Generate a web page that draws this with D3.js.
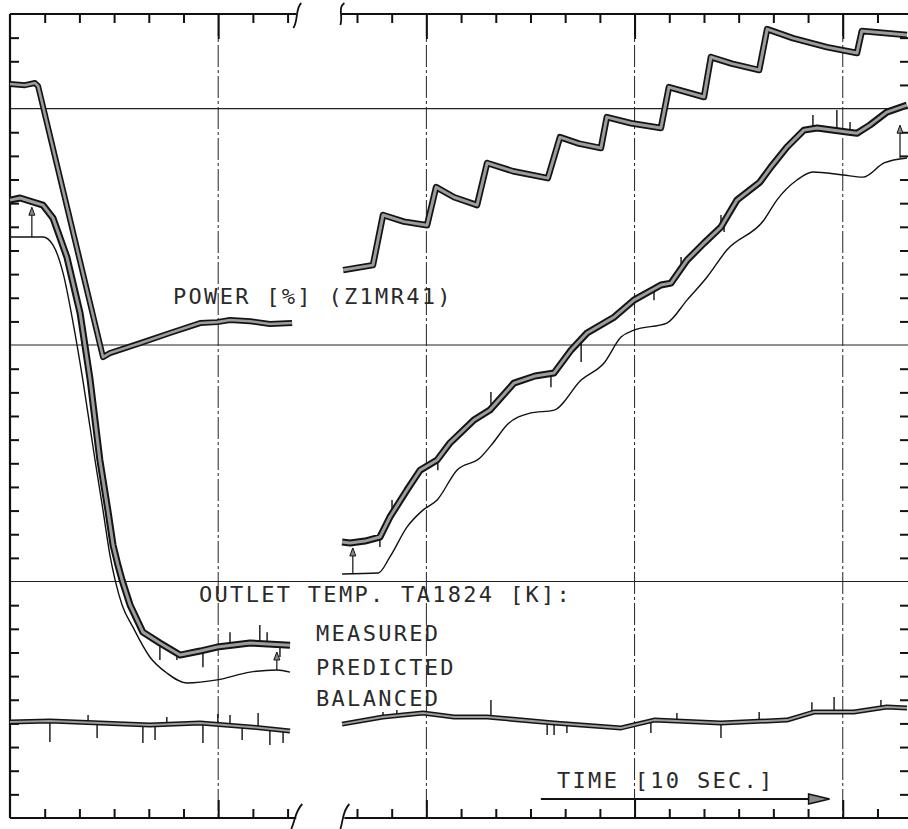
<!DOCTYPE html>
<html>
<head>
<meta charset="utf-8">
<script src="https://cdnjs.cloudflare.com/ajax/libs/d3/7.8.5/d3.min.js"></script>
<style>
  body { margin: 0; background: #fff; }
  .label { font-family: 'DejaVu Sans Mono', monospace; font-size: 22px; letter-spacing: 2.3px; fill: #2a2a2a; }
  .tick line { stroke: #111; }
</style>
</head>
<body>
<div id="chart-area"></div>
<script>
// recorder trace: time in seconds (one tick = 10 s), value in chart divisions (0 - 34)

var width = 908,
    height = 829;

// POWER [%] (Z1MR41)
var powerLeft = [
    [0, 31.04], [4.3, 30.99], [7.2, 31.08], [8.1, 30.95], [26.8, 19.49], [28.8, 19.66],
    [37.5, 20.08], [46.1, 20.51], [54.8, 20.93], [59.7, 20.97], [63.4, 21.06], [69.2, 21.01],
    [74.9, 20.89], [81.3, 20.93]
];
var powerRight = [
    [96.0, 23.17], [104.6, 23.38], [107.5, 25.50], [113.5, 25.22], [120.2, 25.07], [122.8, 26.68],
    [128.0, 26.25], [134.6, 25.92], [137.5, 27.70], [145.0, 27.35], [155.0, 27.06], [158.5, 28.79],
    [164.0, 28.52], [170.3, 28.33], [172.0, 29.64], [179.0, 29.38], [187.6, 29.18], [189.9, 30.91],
    [200.0, 30.49], [202.0, 32.18], [208.0, 31.90], [215.9, 31.63], [218.2, 33.36], [225.6, 32.98],
    [235.4, 32.60], [244.1, 32.35], [245.5, 33.28], [252.0, 33.20], [258.5, 33.11]
];

// OUTLET TEMP. TA1824 [K] - measured
var measuredLeft = [
    [0, 26.13], [2.9, 26.22], [6.6, 26.05], [9.5, 25.92], [12.4, 25.37], [16.4, 23.72], [20.2, 21.35],
    [23.1, 18.52], [25.9, 15.14], [28.2, 13.02], [29.7, 11.54], [31.1, 10.70], [32.3, 10.06],
    [34.6, 9.01], [38.3, 7.86], [43.2, 7.40], [49.0, 6.89], [54.8, 7.06], [59.7, 7.23], [69.2, 7.40],
    [80.7, 7.31]
];
var measuredRight = [
    [95.7, 11.67], [98.0, 11.63], [102.3, 11.71], [106.6, 11.88], [109.5, 12.73], [114.4, 13.87],
    [118.2, 14.71], [123.1, 15.14], [126.8, 15.86], [133.7, 16.83], [138.3, 17.25], [145.2, 18.39],
    [151.3, 18.69], [156.8, 18.82], [161.7, 19.79], [166.3, 20.51], [174.1, 21.18], [179.8, 21.90],
    [187.6, 22.54], [190.5, 22.62], [195.1, 23.59], [200.0, 24.31], [204.9, 24.99], [209.5, 26.13],
    [216.1, 26.89], [219.3, 27.53], [223.9, 28.37], [228.8, 29.09], [232.6, 29.18], [241.2, 29.01],
    [244.1, 28.96], [247.8, 29.30], [252.7, 29.85], [258.5, 30.15]
];

// predicted
var predictedLeft = [
    [0, 24.57], [9.5, 24.57], [12.4, 24.23], [15.3, 23.04], [18.2, 20.93], [21.0, 18.52], [24.5, 15.14],
    [26.8, 13.02], [28.8, 11.12], [30.3, 10.06], [32.3, 9.01], [35.4, 8.08], [40.3, 6.81], [45.2, 6.13],
    [51.0, 5.71], [59.7, 5.84], [69.2, 6.17], [76.9, 6.26], [80.7, 6.17]
];
var predictedRight = [
    [95.7, 10.32], [106.1, 10.36], [109.5, 11.04], [114.4, 12.30], [119.0, 13.02], [123.1, 13.45],
    [128.8, 14.71], [135.4, 15.22], [139.2, 15.86], [143.2, 16.62], [149.9, 17.12], [156.8, 17.25],
    [164.6, 18.52], [171.2, 19.24], [176.1, 20.34], [179.8, 20.63], [189.3, 20.93], [195.1, 21.90],
    [200.9, 22.88], [206.6, 24.02], [217.3, 25.29], [221.0, 26.13], [226.8, 26.98], [231.4, 27.32],
    [240.1, 27.19], [245.8, 27.10], [251.9, 27.70], [258.5, 27.91]
];

// balanced
var balancedLeft = [
    [0, 4.06], [11.5, 4.10], [25.9, 4.02], [40.3, 3.93], [54.8, 4.02], [69.2, 3.85], [80.7, 3.68]
];
var balancedRight = [
    [95.7, 3.97], [107.5, 4.27], [119.0, 4.44], [128.0, 4.27], [137.5, 4.27], [156.8, 4.02],
    [176.1, 3.81], [185.6, 4.14], [204.9, 4.02], [223.9, 4.14], [231.7, 4.48], [243.2, 4.48],
    [252.7, 4.69], [258.5, 4.65]
];

// noise spikes: [time, tip value]
var measuredSpikes = [
    [43.2, 6.68], [48.1, 6.68], [55.6, 6.38], [63.4, 7.86], [72.0, 8.16], [74.1, 7.86], [77.8, 6.81],
    [106.6, 11.46], [110.1, 13.45], [123.3, 14.71], [138.6, 18.01], [155.9, 18.22], [164.6, 19.28],
    [185.6, 21.90], [193.4, 23.72], [204.9, 25.50], [205.8, 24.78], [231.4, 29.73], [238.3, 29.94],
    [242.1, 29.43]
];
var balancedSpikes = [
    [11.5, 3.21], [22.5, 4.36], [25.1, 3.38], [38.3, 3.17], [41.8, 3.30], [45.2, 4.27], [55.6, 3.17],
    [59.9, 4.40], [63.4, 4.36], [66.9, 3.30], [71.5, 4.44], [74.9, 3.09], [78.7, 3.17],
    [107.5, 4.48], [111.5, 4.57], [138.6, 4.99], [154.8, 3.51], [156.8, 3.51], [160.5, 3.59],
    [184.7, 3.59], [192.2, 4.44], [204.9, 3.38], [215.9, 4.48], [231.1, 4.90], [237.5, 5.12],
    [251.0, 4.99]
];

// predicted -> measured markers: [time, from, to]
var markers = [[6.3, 24.57, 25.83], [76.9, 6.26, 7.02], [98.8, 10.32, 11.42], [256.5, 27.91, 29.30]];

// axis ticks
var minorTicks = [10, 20, 30, 40, 50, 70, 80, 100, 110, 130, 140, 150, 160, 170, 190, 200, 210, 220, 230, 250];
var majorTicks = [60, 120, 180, 240];
var valueTicks = d3.range(1, 34).filter(function(v) { return v % 10 !== 0; });
var gridValues = [10, 20, 30];
var breakTimes = [82.5, 95.5];

var svg = d3.select('#chart-area')
    .append('svg')
        .attr('width', width)
        .attr('height', height);

var g = svg.append('g');

// scales
var xScale = d3.scaleLinear().domain([0, 258.8]).range([10, 908]);
var yScale = d3.scaleLinear().domain([0, 34]).range([818, 14]);

var line = d3.line()
    .x(function(d) { return xScale(d[0]); })
    .y(function(d) { return yScale(d[1]); });

var smooth = d3.line()
    .x(function(d) { return xScale(d[0]); })
    .y(function(d) { return yScale(d[1]); })
    .curve(d3.curveMonotoneX);

// grid
gridValues.forEach(function(v) {
    g.append('line')
        .attr('x1', xScale(0)).attr('x2', width)
        .attr('y1', yScale(v)).attr('y2', yScale(v))
        .attr('stroke', '#222').attr('stroke-width', 1.1);
});
majorTicks.forEach(function(t) {
    g.append('line')
        .attr('x1', xScale(t)).attr('x2', xScale(t))
        .attr('y1', yScale(34)).attr('y2', yScale(0))
        .attr('stroke', '#222').attr('stroke-width', 1)
        .attr('stroke-dasharray', '22,3,3,3');
});

// axis ticks (domain paths removed, frame drawn below)
function tickAxis(axis, tx, ty) {
    var ag = g.append('g')
        .attr('transform', 'translate(' + tx + ',' + ty + ')')
        .call(axis);
    ag.select('.domain').remove();
    ag.selectAll('.tick line').attr('stroke-width', 2);
    return ag;
}
tickAxis(d3.axisBottom(xScale).tickValues(minorTicks).tickSize(9).tickFormat(''), 0, yScale(34));
tickAxis(d3.axisBottom(xScale).tickValues(majorTicks).tickSize(25).tickFormat(''), 0, yScale(34));
tickAxis(d3.axisTop(xScale).tickValues(minorTicks).tickSize(9).tickFormat(''), 0, yScale(0));
tickAxis(d3.axisTop(xScale).tickValues(majorTicks).tickSize(18).tickFormat(''), 0, yScale(0));
tickAxis(d3.axisRight(yScale).tickValues(valueTicks).tickSize(9).tickFormat(''), xScale(0), 0);
tickAxis(d3.axisLeft(yScale).tickValues(valueTicks).tickSize(8).tickFormat(''), width, 0);

// frame with the time break
var frame = [
    [xScale(0), yScale(34), xScale(breakTimes[0]), yScale(34)],
    [xScale(breakTimes[1]), yScale(34), width, yScale(34)],
    [xScale(0), yScale(0), xScale(breakTimes[0]), yScale(0)],
    [xScale(breakTimes[1]) + 3, yScale(0), width, yScale(0)],
    [xScale(0), yScale(34), xScale(0), yScale(0)]
];
frame.forEach(function(f) {
    g.append('line')
        .attr('x1', f[0]).attr('y1', f[1]).attr('x2', f[2]).attr('y2', f[3])
        .attr('stroke', '#111').attr('stroke-width', 2.2);
});

var b0 = xScale(breakTimes[0]), b1 = xScale(breakTimes[1]);
var breakPaths = [
    'M' + (b0 - 3) + ',28 C' + (b0 + 2) + ',22 ' + (b0 - 1) + ',8 ' + (b0 + 5) + ',3',
    'M' + (b1 + 3) + ',3 C' + (b1 - 4) + ',8 ' + (b1 + 2) + ',16 ' + (b1 - 1) + ',25',
    'M' + (b0 - 5) + ',829 C' + (b0 - 1) + ',820 ' + (b0 - 1) + ',811 ' + (b0 + 6) + ',804',
    'M' + (b1 - 1) + ',829 C' + (b1 + 2) + ',820 ' + (b1 + 1) + ',811 ' + (b1 + 8) + ',804'
];
breakPaths.forEach(function(p) {
    g.append('path').attr('d', p).attr('fill', 'none').attr('stroke', '#111').attr('stroke-width', 1.8);
});

// value of a trace at time t (for spike bases)
var bisect = d3.bisector(function(d) { return d[0]; }).left;
function valueAt(series, t) {
    var i = Math.max(1, Math.min(series.length - 1, bisect(series, t)));
    var a = series[i - 1], b = series[i];
    return a[1] + (b[1] - a[1]) * (t - a[0]) / (b[0] - a[0]);
}

function spikes(list, left, right) {
    list.forEach(function(s) {
        var series = s[0] < 90 ? left : right;
        g.append('line')
            .attr('x1', xScale(s[0])).attr('x2', xScale(s[0]))
            .attr('y1', yScale(valueAt(series, s[0]))).attr('y2', yScale(s[1]))
            .attr('stroke', '#111').attr('stroke-width', 1.4);
    });
}

// pen-recorder band: dark outline with grey hatch inside
function band(data, outer, inner) {
    g.append('path').datum(data)
        .attr('d', line)
        .attr('fill', 'none').attr('stroke', '#141414')
        .attr('stroke-width', outer).attr('stroke-linejoin', 'round').attr('stroke-linecap', 'butt');
    g.append('path').datum(data)
        .attr('d', line)
        .attr('fill', 'none').attr('stroke', '#9d9d9d')
        .attr('stroke-width', inner).attr('stroke-linejoin', 'round').attr('stroke-linecap', 'butt');
}

spikes(balancedSpikes, balancedLeft, balancedRight);
spikes(measuredSpikes, measuredLeft, measuredRight);

[predictedLeft, predictedRight].forEach(function(d) {
    g.append('path').datum(d)
        .attr('d', smooth)
        .attr('fill', 'none').attr('stroke', '#111').attr('stroke-width', 1.4);
});

band(balancedLeft, 5, 2);
band(balancedRight, 5, 2);
band(measuredLeft, 7, 3);
band(measuredRight, 7, 3);
band(powerLeft, 6, 2.6);
band(powerRight, 6.5, 3);

// markers with arrowheads
markers.forEach(function(m) {
    var x = xScale(m[0]), y0 = yScale(m[1]), y1 = yScale(m[2]);
    g.append('line').attr('x1', x).attr('x2', x).attr('y1', y0).attr('y2', y1 + 4)
        .attr('stroke', '#111').attr('stroke-width', 1.2);
    g.append('path')
        .attr('d', 'M' + (x - 3) + ',' + (y1 + 8) + ' L' + x + ',' + y1 + ' L' + (x + 3) + ',' + (y1 + 8) + 'Z')
        .attr('fill', '#888').attr('stroke', '#111').attr('stroke-width', 1);
});

// labels
var labels = [
    { text: 'POWER [%] (Z1MR41)', x: 173, y: 304 },
    { text: 'OUTLET TEMP. TA1824 [K]:', x: 199, y: 602 },
    { text: 'MEASURED', x: 316, y: 641 },
    { text: 'PREDICTED', x: 316, y: 675 },
    { text: 'BALANCED', x: 316, y: 706 },
    { text: 'TIME [10 SEC.]', x: 557, y: 788 }
];
labels.forEach(function(l) {
    g.append('text').attr('class', 'label').attr('x', l.x).attr('y', l.y).text(l.text);
});

// time arrow
g.append('line')
    .attr('x1', xScale(153)).attr('x2', xScale(230))
    .attr('y1', 799).attr('y2', 799)
    .attr('stroke', '#111').attr('stroke-width', 2);
var ax = xScale(236.2);
g.append('path')
    .attr('d', 'M' + (ax - 21) + ',794 L' + ax + ',799 L' + (ax - 21) + ',804 Z')
    .attr('fill', '#8a8a8a').attr('stroke', '#111').attr('stroke-width', 1.5);
</script>
</body>
</html>
